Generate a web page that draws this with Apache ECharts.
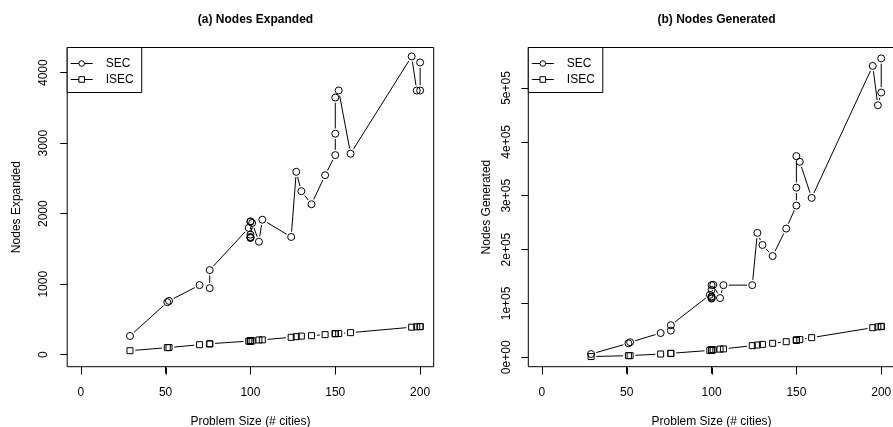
<!DOCTYPE html>
<html><head><meta charset="utf-8">
<script src="https://cdn.jsdelivr.net/npm/echarts@6/dist/echarts.min.js"></script>
<style>html,body{margin:0;padding:0;background:#fff}#c{width:893px;height:427px}</style>
</head><body><div id="c"></div>
<script>
// Problem sizes (# cities), in plotting order
const problemSize = [29,51,52,70,76,76,99,100,100,100,100,100,100,101,105,107,124,127,130,136,144,150,150,150,152,159,195,198,200,200];
// (a) Nodes Expanded
const secExpanded  = [266,745,763,987,944,1200,1798,1892,1885,1703,1670,1656,1660,1869,1603,1915,1670,2594,2319,2134,2546,2831,3135,3647,3747,2851,4230,3747,3747,4145];
const isecExpanded = [57,100,102,142,152,156,193,196,195,194,195,196,194,197,209,211,247,256,264,270,285,298,299,300,301,313,390,396,398,400];
// (b) Nodes Generated
const secGenerated  = [6100,26000,28000,45000,49600,59600,116000,134000,125000,112000,109000,110000,113000,134600,110000,134000,134000,231000,208600,188000,239000,281700,315000,373600,363000,296000,541000,468000,491600,555000];
const isecGenerated = [1400,3000,3100,6100,7000,7400,12800,13600,13500,13400,13500,13600,13300,14000,15200,15600,21600,22800,24000,26000,29000,31500,32000,32300,32800,36500,55000,56500,57000,57500];
// tick labels
const xTicks = [0,50,100,150,200];
const expTicks = [0,1000,2000,3000,4000];
const genTicks = [0,100000,200000,300000,400000,500000];
const genTickLabels = ['0e+00','1e+05','2e+05','3e+05','4e+05','5e+05'];

const FONT = 'Liberation Sans';
const pts = (ys) => problemSize.map((x,i)=>[x, ys[i]]);
const segs = (ys) => problemSize.slice(1).map((x,i)=>[problemSize[i], ys[i], x, ys[i+1]]);
const GAP = 5.3;
function renderSeg(params, api){
  const p0 = api.coord([api.value(0), api.value(1)]);
  const p1 = api.coord([api.value(2), api.value(3)]);
  const dx = p1[0]-p0[0], dy = p1[1]-p0[1];
  const d = Math.sqrt(dx*dx+dy*dy);
  if (d <= 2*GAP) return null;
  const ux = dx/d, uy = dy/d;
  return {type:'line', shape:{x1:p0[0]+ux*GAP, y1:p0[1]+uy*GAP, x2:p1[0]-ux*GAP, y2:p1[1]-uy*GAP},
          style:{stroke:'#000', lineWidth:1}};
}
function lineSeg(name, ys, gi){
  return {type:'custom', name:name, xAxisIndex:gi, yAxisIndex:gi, data:segs(ys), renderItem:renderSeg,
          encode:{x:[0,2], y:[1,3]}, silent:true, z:1};
}
// x-axis tick marks: all ticks drawn in one item, placed through the axis scale below the plot box
function renderTicks(params, api){
  const cs = params.coordSys;
  const b = Math.round(cs.y + cs.height) + 0.5;
  const children = xTicks.map(t => {
    const p = api.coord([t, api.value(1)]);
    const x = Math.round(p[0]) + 0.5;
    return {type:'line', shape:{x1:x, y1:b, x2:x, y2:b+7}, style:{stroke:'#000', lineWidth:1}};
  });
  return {type:'group', children:children};
}
function tickSeries(gi){
  return {type:'custom', name:'xticks'+gi, xAxisIndex:gi, yAxisIndex:gi, data:[[100, 0]],
          renderItem:renderTicks, encode:{x:0, y:1}, clip:false, silent:true, z:3};
}
function pointSeries(name, ys, gi, sym, size){
  return {type:'line', name:name, xAxisIndex:gi, yAxisIndex:gi, data:pts(ys), symbol:sym, symbolSize:size,
          showAllSymbol:true, color:'#fff', lineStyle:{opacity:0, width:1, color:'#000'},
          itemStyle:{color:'rgba(255,255,255,0)', borderColor:'#000', borderWidth:1}, z:2};
}
const gridTop = 47.5, gridH = 319.2, gridW = 366.5;
const grids = [{left:67.2, top:gridTop, width:gridW, height:gridH},
               {left:528.3, top:gridTop, width:gridW, height:gridH}];
function xAx(gi){
  return {type:'value', gridIndex:gi, min:-8, max:208,
    axisLine:{show:false, onZero:false}, splitLine:{show:false},
    axisTick:{show:true, inside:false, length:7, customValues:xTicks, lineStyle:{color:'#000', width:1}},
    axisLabel:{customValues:xTicks, color:'#000', fontFamily:FONT, fontSize:12, margin:20},
    name:'Problem Size (# cities)', nameLocation:'middle', nameGap:49,
    nameTextStyle:{color:'#000', fontFamily:FONT, fontSize:12}};
}
function yAx(gi, min, max, ticks, fmt, name, nameGap, margin){
  return {type:'value', gridIndex:gi, min:min, max:max,
    axisLine:{show:false, onZero:false}, splitLine:{show:false},
    axisTick:{show:true, inside:false, length:7, customValues:ticks, lineStyle:{color:'#000', width:1}},
    axisLabel:{customValues:ticks, rotate:90, color:'#000', fontFamily:FONT, fontSize:12, margin:margin, formatter:fmt},
    name:name, nameLocation:'middle', nameGap:nameGap, nameRotate:90,
    nameTextStyle:{color:'#000', fontFamily:FONT, fontSize:12}};
}
function legend(left){
  return {data:['SEC','ISEC'], orient:'vertical', left:left, top:gridTop, itemWidth:22, itemHeight:7, itemGap:4,
    padding:[10,8,7,3], borderColor:'#000', borderWidth:1, borderRadius:0, backgroundColor:'#fff',
    selectedMode:false, lineStyle:{opacity:1, width:1, color:'#000'},
    itemStyle:{color:'#fff', borderColor:'#000', borderWidth:1},
    textStyle:{color:'#000', fontFamily:FONT, fontSize:12, padding:[0,0,0,8]}};
}
const option = {
  animation:false,
  backgroundColor:'#fff',
  title:[
    {text:'(a) Nodes Expanded', left:250.5, top:9, textAlign:'center', textStyle:{fontSize:12, fontWeight:'bold', fontFamily:FONT, color:'#000'}},
    {text:'(b) Nodes Generated', left:711.5, top:9, textAlign:'center', textStyle:{fontSize:12, fontWeight:'bold', fontFamily:FONT, color:'#000'}}
  ],
  grid: grids.map(g=>Object.assign({show:true, borderColor:'#000', borderWidth:1, backgroundColor:'transparent',
    containLabel:false, outerBoundsMode:'none'}, g)),
  legend:[legend(67.2), legend(528.3)],
  xAxis:[xAx(0), xAx(1)],
  yAxis:[
    yAx(0, -170, 4357, expTicks, v=>String(v), 'Nodes Expanded', 45, 18),
    yAx(1, -17450, 575200, genTicks, v=>genTickLabels[genTicks.indexOf(v)], 'Nodes Generated', 36, 16)
  ],
  series:[
    tickSeries(0),
    tickSeries(1),
    lineSeg('SEC-lines-a', secExpanded, 0),
    lineSeg('ISEC-lines-a', isecExpanded, 0),
    lineSeg('SEC-lines-b', secGenerated, 1),
    lineSeg('ISEC-lines-b', isecGenerated, 1),
    pointSeries('SEC', secExpanded, 0, 'circle', 7),
    pointSeries('ISEC', isecExpanded, 0, 'rect', 6),
    pointSeries('SEC', secGenerated, 1, 'circle', 7),
    pointSeries('ISEC', isecGenerated, 1, 'rect', 6)
  ]
};
const chart = echarts.init(document.getElementById('c'), null, {renderer:'canvas'});
chart.setOption(option);
</script>
</body></html>
